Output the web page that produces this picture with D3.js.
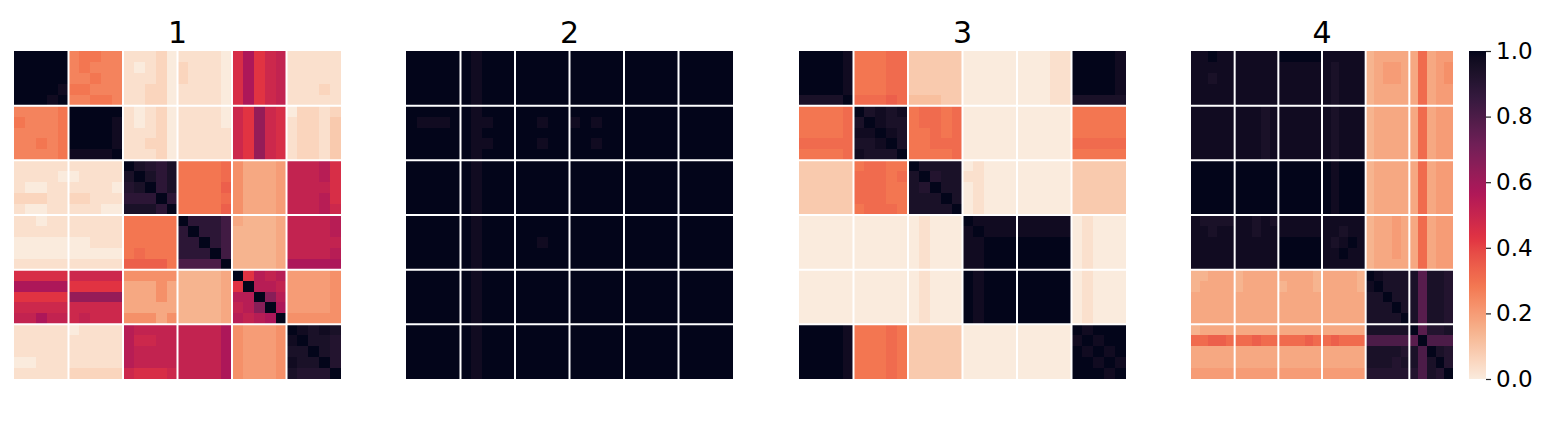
<!DOCTYPE html>
<html><head><meta charset="utf-8">
<script src="https://cdn.jsdelivr.net/npm/d3@7"></script>
<style>body{margin:0;background:#fff;} svg{display:block;font-family:"DejaVu Sans",sans-serif;}</style>
</head><body><svg id="chart" width="1551" height="426"></svg>
<script>
// Each character is one cell value: index in LEVELS / 35 (0 .. 1). Spaces separate 5-cell blocks.
const LEVELS = "0123456789abcdefghijklmnopqrstuvwxyz";
const panelTitles = ["1", "2", "3", "4"];
const colorbarTicks = [0, 0.2, 0.4, 0.6, 0.8, 1.0];
const blockBreaks = [5, 10, 15, 20, 25];

const panel1Rows = [
  "zzzzz 9aa99 11120 11110 gkfhi 11111",
  "zzzzz 9a999 10120 21110 gkfhi 11111",
  "zzzzz 99a99 11120 21110 gkfhi 11111",
  "zzzzy aa999 11220 11110 gkfhi 11121",
  "zzzyz 99aa9 11220 11110 gkfhi 11111",
  "9999a zzzzz 10120 11110 hfmhg 02212",
  "a999a zzzzy 10120 11110 hfmhg 12213",
  "9999a zzzzy 11120 11111 hfmhg 12213",
  "99a9a zzzzy 11220 11111 hfmhg 12213",
  "9999a yyyyz 11120 11111 hfmhg 12213",
  "11111 11111 zxwvx aaaab 86667 iiijg",
  "11110 01111 xzxvx aaaab 86667 iiijg",
  "10011 11110 wxzvx aaaac 86667 iiiig",
  "22211 22111 vvvzv aaaab 86667 iiijg",
  "10011 11100 xxxvz aaaac 86667 iiijh",
  "11011 11111 aaaaa zvvvt 65556 iiiij",
  "11111 11111 aaaaa vzvvt 55556 iiiij",
  "00000 00111 aaaaa vvzvt 55556 iiiii",
  "00000 00000 abaaa vvvzt 55556 iiiij",
  "11111 11111 cccca ssssz 55556 kkkkk",
  "ggggg hhhhh 88888 55556 zfjij 77778",
  "kkkkk fffff 66686 55556 fzjji 77778",
  "fffff mmmmm 66686 55556 jjznj 77778",
  "hhhhh hhhhh 66666 55556 ijnzk 77778",
  "iikii hihhh 88868 55556 jijkz 88888",
  "11111 01111 jiiii iiiik 87778 zyxyx",
  "11111 11111 jhhii iiiik 87778 yzxxw",
  "11111 11111 jiiii iiiik 87778 xxzxw",
  "00111 11111 jiiii iiiik 87778 yxxzw",
  "11111 22222 hgggh iiiik 87778 xwwwz"
];

const panel2Rows = [
  "zzzzz zyzzz zzzzz zzzzz zzzzz zzzzz",
  "zzzzz zyzzz zzzzz zzzzz zzzzz zzzzz",
  "zzzzz zyzzz zzzzz zzzzz zzzzz zzzzz",
  "zzzzz zyzzz zzzzz zzzzz zzzzz zzzzz",
  "zzzzz zyzzz zzzzz zzzzz zzzzz zzzzz",
  "zzzzz zyzzz zzzzz zzzzz zzzzz zzzzz",
  "zyyyz zyyzz zzyzz yzyzz zzzzz zzzzz",
  "zzzzz zyzzz zzzzz zzzzz zzzzz zzzzz",
  "zzzzz zyyzz zzyzz zzyzz zzzzz zzzzz",
  "zzzzz zyzzz zzzzz zzzzz zzzzz zzzzz",
  "zzzzz zyzzz zzzzz zzzzz zzzzz zzzzz",
  "zzzzz zyzzz zzzzz zzzzz zzzzz zzzzz",
  "zzzzz zyzzz zzzzz zzzzz zzzzz zzzzz",
  "zzzzz zyzzz zzzzz zzzzz zzzzz zzzzz",
  "zzzzz zyzzz zzzzz zzzzz zzzzz zzzzz",
  "zzzzz zyzzz zzzzz zzzzz zzzzz zzzzz",
  "zzzzz zyzzz zzzzz zzzzz zzzzz zzzzz",
  "zzzzz zyzzz zzyzz zzzzz zzzzz zzzzz",
  "zzzzz zyzzz zzzzz zzzzz zzzzz zzzzz",
  "zzzzz zyzzz zzzzz zzzzz zzzzz zzzzz",
  "zzzzz zyzzz zzzzz zzzzz zzzzz zzzzz",
  "zzzzz zyzzz zzzzz zzzzz zzzzz zzzzz",
  "zzzzz zyzzz zzzzz zzzzz zzzzz zzzzz",
  "zzzzz zyzzz zzzzz zzzzz zzzzz zzzzz",
  "zzzzz zyzzz zzzzz zzzzz zzzzz zzzzz",
  "zzzzz zyzzz zzzzz zzzzz zzzzz zzzzz",
  "zzzzz zyzzz zzzzz zzzzz zzzzz zzzzz",
  "zzzzz zyzzz zzzzz zzzzz zzzzz zzzzz",
  "zzzzz zyzzz zzzzz zzzzz zzzzz zzzzz",
  "zzzzz zyzzz zzzzz zzzzz zzzzz zzzzz"
];

const panel3Rows = [
  "zzzzy aaabb 33333 00000 00011 zzzzy",
  "zzzzy aaabb 33333 00000 00011 zzzzy",
  "zzzzy aaabb 33333 00000 00011 zzzzy",
  "zzzzy aaabb 33333 00000 00011 zzzzy",
  "xxxxz bbbcb 44433 00000 00011 xxxxx",
  "aaaab zxyxy abbab 00000 00000 aaaaa",
  "aaaab xzyxx abbab 00000 00000 aaaaa",
  "aaaab yyzyx aabab 00000 00000 aaaaa",
  "bbbbb xxyzx aabbb 00000 00000 bbbbb",
  "aaaab yxxxz aaaab 00000 00000 aaaaa",
  "33333 abbaa zxxxx 01000 00000 33333",
  "33333 bbbab xzwxx 11000 00000 33333",
  "33333 bbbaa xwzxx 01000 00000 33333",
  "33333 bbbaa xxxzx 01000 00000 33333",
  "33333 abbba xxxxz 01000 00000 33333",
  "00000 00000 01000 zyyyy yyyyy 01000",
  "00000 00000 01000 yzyyy yyyyy 01000",
  "00000 00000 01000 yyzzz zzzzz 01000",
  "00000 00000 01000 yyzzz zzzzz 01000",
  "00000 00000 01000 yyzzz zzzzz 01000",
  "00000 00000 01000 zyzzz zzzzz 01000",
  "00000 00000 01000 zyzzz zzzzz 01000",
  "00000 00000 01000 zyzzz zzzzz 01000",
  "00000 00000 01000 zyzzz zzzzz 01000",
  "00000 00000 01000 zyzzz zzzzz 01000",
  "zzzzy aaaba 33333 00000 00000 zyzzz",
  "zzzzy aaaba 33333 00000 00000 yzyzz",
  "zzzzy aaaba 33333 00000 00000 zyzyz",
  "zzzzy aaaba 33333 00000 00000 zzyzy",
  "zzzzy aaaba 33333 00000 00000 zzzyz"
];

const panel4Rows = [
  "yyzyy yyyyy zzzzz yyyyy 56666 6b677",
  "yyyyy yyyyy yyyyy yxyyy 56776 6b678",
  "yyxyy yyyyy yyyyy yxyyy 56776 6b678",
  "yyyyy yyyyy yyyyy yxyyy 56666 6b677",
  "yyyyy yyyyy yyyyy yxyyy 56666 6b677",
  "yyyyy yyyxy yyyyy yxyyy 56666 6b677",
  "yyyyy yyyxy yyyyy yxyyy 56666 6b677",
  "yyyyy yyyxy yyyyy yxyyy 56666 6b677",
  "yyyyy yyyxy yyyyy yxyyy 56666 6b677",
  "yyyyy yyyxy yyyyy yxyyy 56666 6b677",
  "zzzzz zzzzz zzzzz zyzzz 56666 6b677",
  "zzzzz zzzzz zzzzz zyzzz 56666 6b677",
  "zzzzz zzzzz zzzzz zyzzz 56666 6b677",
  "zzzzz zzzzz zzzzz zyzzz 56666 6b677",
  "zzzzz zzzzz zzzzz zyzzz 56666 6b677",
  "yxxxx yyxyx yyyyy yyyyy 56676 6b677",
  "yyxyy yyxyy yyyyy yyxyy 56676 6b677",
  "yyyyy yyyyy zzzzz yxyzy 56676 6b677",
  "yyyyy yyyyy zzzzz yyzyy 56676 6b677",
  "yyyyy yyyyy zzzzz yyyyy 56666 6b677",
  "55666 56666 66665 66665 zyxxx xrxxw",
  "56666 56666 56665 66665 yzxxx xrxxw",
  "66666 66666 66666 66666 xxzxx xrxxw",
  "66666 66666 66666 66666 xxxzx xrxxw",
  "66666 66666 66666 66666 xxxxz xrxxw",
  "56666 66666 66666 66666 xxxxx zrwwx",
  "bbccb bbcbb bbbcb bcbbb sssss rzsss",
  "66666 66666 66666 66666 xxxxw xszxw",
  "66666 66666 66666 66666 xxxwx xsxzw",
  "77777 77777 77777 77777 wwwww wsxwz"
];

// rocket_r anchor colours
const rocketStops = ["#faebdd", "#f6b48f", "#f37651", "#e13342", "#ad1759", "#701f57", "#35193e", "#03051a"];

const color = d3.scaleLinear()
  .domain(d3.range(rocketStops.length).map(i => i / (rocketStops.length - 1)))
  .range(rocketStops)
  .interpolate(d3.interpolateLab)
  .clamp(true);

function parse(rows) {
  return rows.map(r => r.replace(/ /g, "").split("").map(ch => LEVELS.indexOf(ch) / 35));
}

const panels = [panel1Rows, panel2Rows, panel3Rows, panel4Rows].map(parse);
const layout = [
  {x: 14, w: 327}, {x: 406, w: 327}, {x: 799, w: 327}, {x: 1191, w: 262}
];
const plotTop = 51, plotHeight = 328;

const svg = d3.select("#chart");

panels.forEach((m, p) => {
  const n = m.length;
  const xs = d3.scaleLinear().domain([0, n]).range([layout[p].x, layout[p].x + layout[p].w]);
  const ys = d3.scaleLinear().domain([0, n]).range([plotTop, plotTop + plotHeight]);
  const g = svg.append("g");
  const cells = [];
  m.forEach((row, i) => row.forEach((v, j) => cells.push({i, j, v})));
  g.selectAll("rect.cell").data(cells).join("rect")
    .attr("class", "cell")
    .attr("shape-rendering", "crispEdges")
    .attr("x", d => Math.round(xs(d.j)))
    .attr("y", d => Math.round(ys(d.i)))
    .attr("width", d => Math.round(xs(d.j + 1)) - Math.round(xs(d.j)))
    .attr("height", d => Math.round(ys(d.i + 1)) - Math.round(ys(d.i)))
    .attr("fill", d => color(d.v));
  g.selectAll("line.v").data(blockBreaks).join("line")
    .attr("class", "v")
    .attr("x1", d => xs(d)).attr("x2", d => xs(d))
    .attr("y1", plotTop).attr("y2", plotTop + plotHeight)
    .attr("stroke", "#fff").attr("stroke-width", 2);
  g.selectAll("line.h").data(blockBreaks).join("line")
    .attr("class", "h")
    .attr("y1", d => ys(d)).attr("y2", d => ys(d))
    .attr("x1", layout[p].x).attr("x2", layout[p].x + layout[p].w)
    .attr("stroke", "#fff").attr("stroke-width", 2);
  svg.append("text")
    .attr("x", layout[p].x + layout[p].w / 2)
    .attr("y", 43)
    .attr("text-anchor", "middle")
    .attr("font-size", 30)
    .attr("fill", "#000")
    .text(panelTitles[p]);
});

// colorbar
const cbX = 1469, cbW = 17;
const defs = svg.append("defs");
const grad = defs.append("linearGradient").attr("id", "cbgrad")
  .attr("x1", 0).attr("y1", 1).attr("x2", 0).attr("y2", 0);
d3.range(0, 1.0001, 0.02).forEach(t => {
  grad.append("stop").attr("offset", t).attr("stop-color", color(t));
});
svg.append("rect").attr("x", cbX).attr("y", plotTop).attr("width", cbW).attr("height", plotHeight)
  .attr("fill", "url(#cbgrad)");
const cbScale = d3.scaleLinear().domain([0, 1]).range([plotTop + plotHeight, plotTop]);
const axis = svg.append("g").attr("transform", `translate(${cbX + cbW},0)`)
  .call(d3.axisRight(cbScale).tickValues(colorbarTicks).tickFormat(d3.format(".1f")).tickSize(5).tickPadding(5));
axis.select(".domain").remove();
axis.selectAll("line").attr("stroke", "#222").attr("stroke-width", 1.2);
axis.selectAll("text").attr("font-size", 23).attr("fill", "#000").attr("font-family", "DejaVu Sans, sans-serif");
</script>
</body></html>
